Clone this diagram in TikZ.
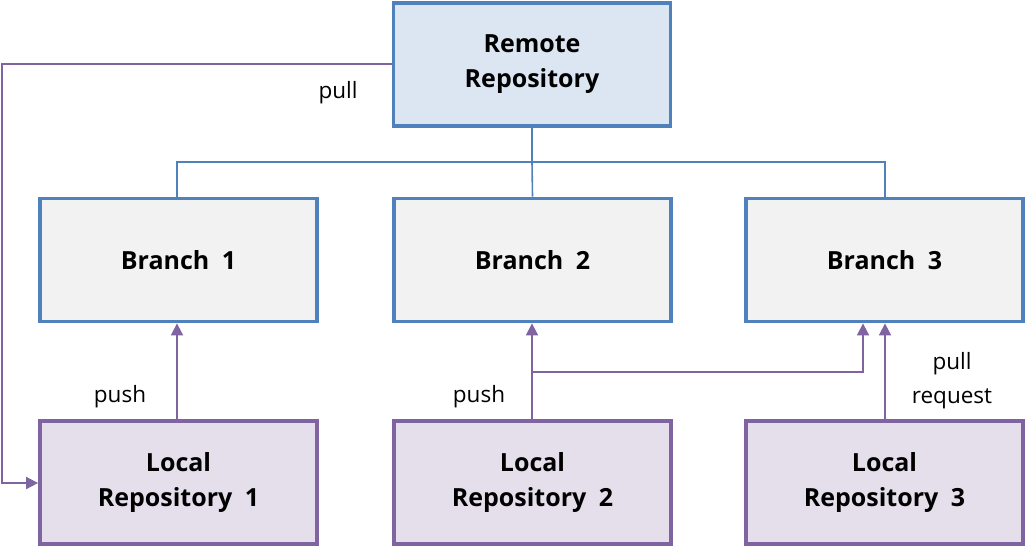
\documentclass[tikz,border=0pt]{standalone}
\usepackage{fontspec}
\setmainfont{Open Sans}
\usetikzlibrary{arrows.meta}
\definecolor{bblue}{HTML}{4F81BD}
\definecolor{ppurple}{HTML}{8064A2}
\definecolor{remfill}{HTML}{DCE6F2}
\definecolor{brfill}{HTML}{F2F2F2}
\definecolor{locfill}{HTML}{E5DFEC}
\newcommand{\gapsp}{\hspace{0.5em}}
\tikzset{
  box/.style={draw, line width=3.8pt, minimum width=277pt, minimum height=123pt, align=center, font=\fontsize{25}{35}\selectfont\bfseries, inner sep=0pt},
  remote/.style={box, draw=bblue, fill=remfill},
  branch/.style={box, draw=bblue, fill=brfill},
  local/.style={box, draw=ppurple, fill=locfill},
  tree/.style={draw=bblue, line width=1.6pt},
  flow/.style={draw=ppurple, line width=1.8pt, -{Triangle[length=12pt,width=12pt]}},
  lbl/.style={font=\fontsize{22.5}{34}\selectfont, align=center, inner sep=0pt}
}
\begin{document}
\begin{tikzpicture}[x=1pt,y=-1pt]
\useasboundingbox (0,0) rectangle (1027,547);
\node[remote] (rem) at (532,64.5) {Remote\\Repository};
\node[branch] (b1) at (178.5,260) {Branch\gapsp1};
\node[branch] (b2) at (532.5,260) {Branch\gapsp2};
\node[branch] (b3) at (884.5,260) {Branch\gapsp3};
\node[local] (l1) at (178.5,482.5) {Local\\Repository\gapsp1};
\node[local] (l2) at (532.5,482.5) {Local\\Repository\gapsp2};
\node[local] (l3) at (884.5,482.5) {Local\\Repository\gapsp3};
\coordinate (hub) at (532,162);
\draw[tree] (rem.south) -- (hub);
\draw[tree] (b1.north -| 177,0) |- (hub) -| (b3.north -| 885,0);
\draw[tree] (hub) -- (b2.north);
% pull
\draw[flow] (rem.west |- 0,64) -- (2,64) |- (l1.west |- 0,483);
\node[lbl] (tpull) at (338,93) {pull};
% push 1
\draw[flow] (l1.north -| 177,0) -- (b1.south -| 177,0);
\node[lbl] (tpush1) at (120,397) {push};
% push 2
\draw[flow] (l2.north -| 532,0) -- (b2.south -| 532,0);
\coordinate (split) at (532,372);
\draw[flow] (split) -- (863,372) -- (b3.south -| 863,0);
\node[lbl] (tpush2) at (479,397) {push};
% pull request
\draw[flow] (l3.north -| 885,0) -- (b3.south -| 885,0);
\node[lbl] (tpr) at (952,381) {pull\\request};
\end{tikzpicture}
\end{document}
